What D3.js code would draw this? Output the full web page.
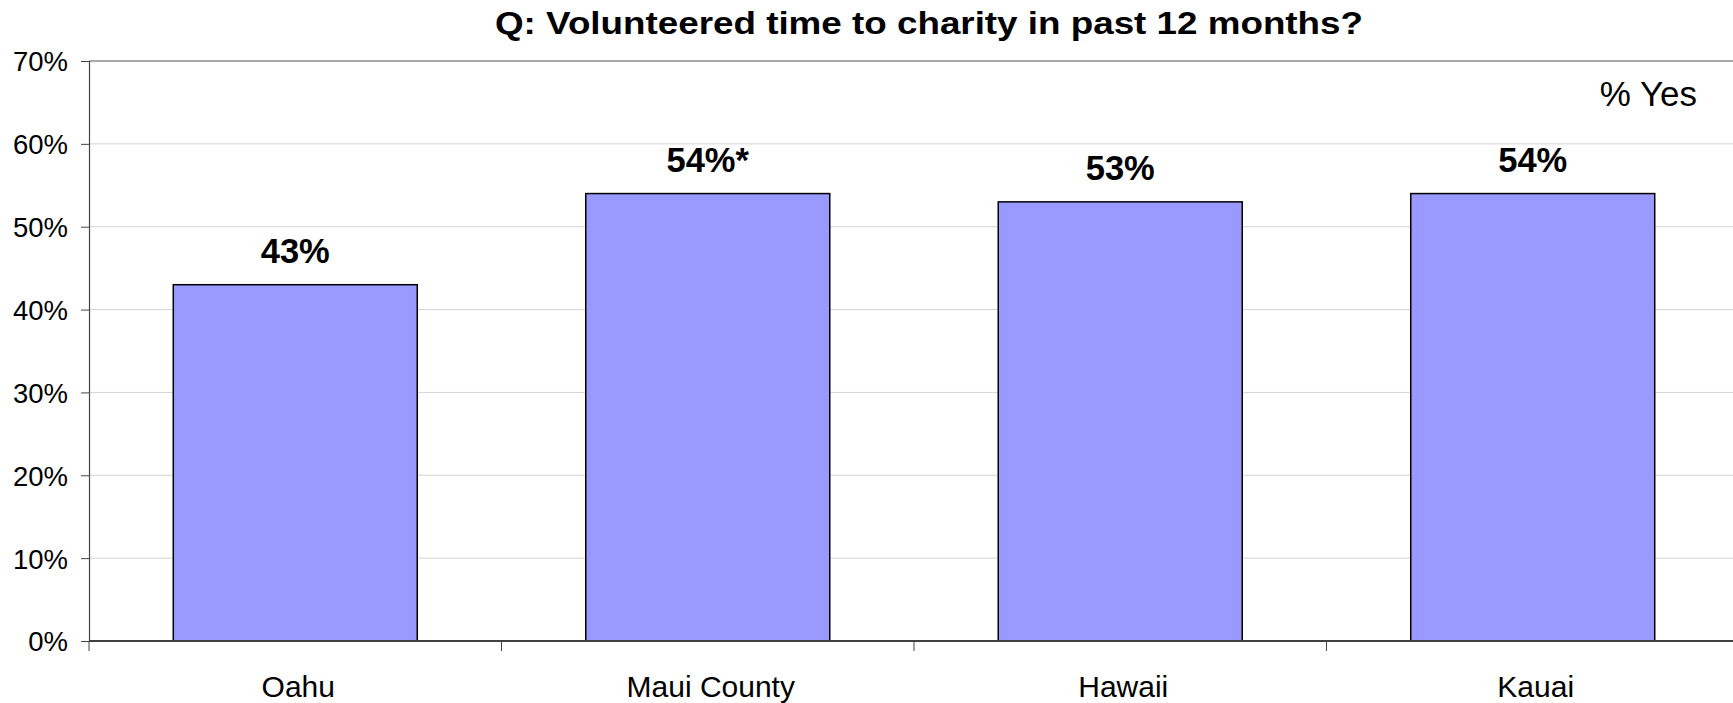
<!DOCTYPE html>
<html>
<head>
<meta charset="utf-8">
<script src="https://cdn.jsdelivr.net/npm/d3@7"></script>
<style>
  html, body { margin: 0; padding: 0; background: #fff; }
  svg text { font-family: "Liberation Sans", Arial, sans-serif; }
</style>
</head>
<body>
<svg id="chart" width="1733" height="703"></svg>
<script>
const categories = ["Oahu", "Maui County", "Hawaii", "Kauai"];
const values = [0.43, 0.54, 0.53, 0.54];
const valueLabels = ["43%", "54%*", "53%", "54%"];
const yTicks = [0, 0.1, 0.2, 0.3, 0.4, 0.5, 0.6, 0.7];
const titleText = "Q: Volunteered time to charity in past 12 months?";
const noteText = "% Yes";

(function () {
const svg = d3.select("#chart");
const plotLeft = 89, plotRight = 1739, plotTop = 61, plotBottom = 641;

const x = d3.scaleBand().domain(categories).range([plotLeft, plotRight])
  .paddingInner(0.4085).paddingOuter(0.2043);
const y = d3.scaleLinear().domain([0, 0.7]).range([plotBottom, plotTop]);

// gridlines
svg.append("g").selectAll("line").data(yTicks.filter(d => d > 0 && d < 0.7)).join("line")
  .attr("x1", plotLeft).attr("x2", plotRight)
  .attr("y1", d => y(d)).attr("y2", d => y(d))
  .attr("stroke", "#d4d4d4").attr("stroke-width", 1);
// top border
svg.append("line").attr("x1", plotLeft).attr("x2", plotRight)
  .attr("y1", y(0.7)).attr("y2", y(0.7))
  .attr("stroke", "#8c8c8c").attr("stroke-width", 1.5);

// bars
svg.append("g").selectAll("rect").data(values).join("rect")
  .attr("x", (d, i) => x(categories[i]))
  .attr("y", d => y(d))
  .attr("width", x.bandwidth())
  .attr("height", d => y(0) - y(d))
  .attr("fill", "#9999ff")
  .attr("stroke", "#000")
  .attr("stroke-width", 1.5);

// y axis
const yAxis = d3.axisLeft(y).tickValues(yTicks).tickFormat(d3.format(".0%")).tickSize(8).tickPadding(13);
const gy = svg.append("g").attr("transform", `translate(${plotLeft},0)`).call(yAxis);
gy.select(".domain").attr("stroke", "#444").attr("stroke-width", 1.2);
gy.selectAll(".tick line").attr("stroke", "#444");
gy.selectAll(".tick text").attr("font-size", "27.5px").attr("fill", "#000")
  .attr("font-family", "'Liberation Sans', Arial, sans-serif").attr("dy", "0.36em");

// x axis line + ticks at band boundaries
const xTickPos = categories.map(c => x(c) - x.step() * x.paddingInner() / 2);
svg.append("line").attr("x1", plotLeft).attr("x2", plotRight).attr("y1", plotBottom).attr("y2", plotBottom)
  .attr("stroke", "#404040").attr("stroke-width", 2);
svg.append("g").selectAll("line").data(xTickPos).join("line")
  .attr("x1", d => d).attr("x2", d => d)
  .attr("y1", plotBottom).attr("y2", plotBottom + 10)
  .attr("stroke", "#444").attr("stroke-width", 1);

// category labels
svg.append("g").selectAll("text").data(categories).join("text")
  .attr("x", d => x(d) + x.bandwidth() / 2 + 3)
  .attr("y", 697)
  .attr("text-anchor", "middle")
  .attr("font-size", "30px")
  .text(d => d);

// value labels
svg.append("g").selectAll("text").data(values).join("text")
  .attr("x", (d, i) => x(categories[i]) + x.bandwidth() / 2)
  .attr("y", d => y(d) - 21.5)
  .attr("text-anchor", "middle")
  .attr("font-size", "34.5px")
  .attr("font-weight", "bold")
  .text((d, i) => valueLabels[i]);

// title
svg.append("text")
  .attr("x", 495).attr("y", 34)
  .attr("font-size", "32px").attr("font-weight", "bold")
  .attr("textLength", 868).attr("lengthAdjust", "spacingAndGlyphs")
  .text(titleText);

// note
svg.append("text")
  .attr("x", 1697).attr("y", 105.5)
  .attr("text-anchor", "end")
  .attr("font-size", "35px")
  .text(noteText);
})();
</script>
</body>
</html>
